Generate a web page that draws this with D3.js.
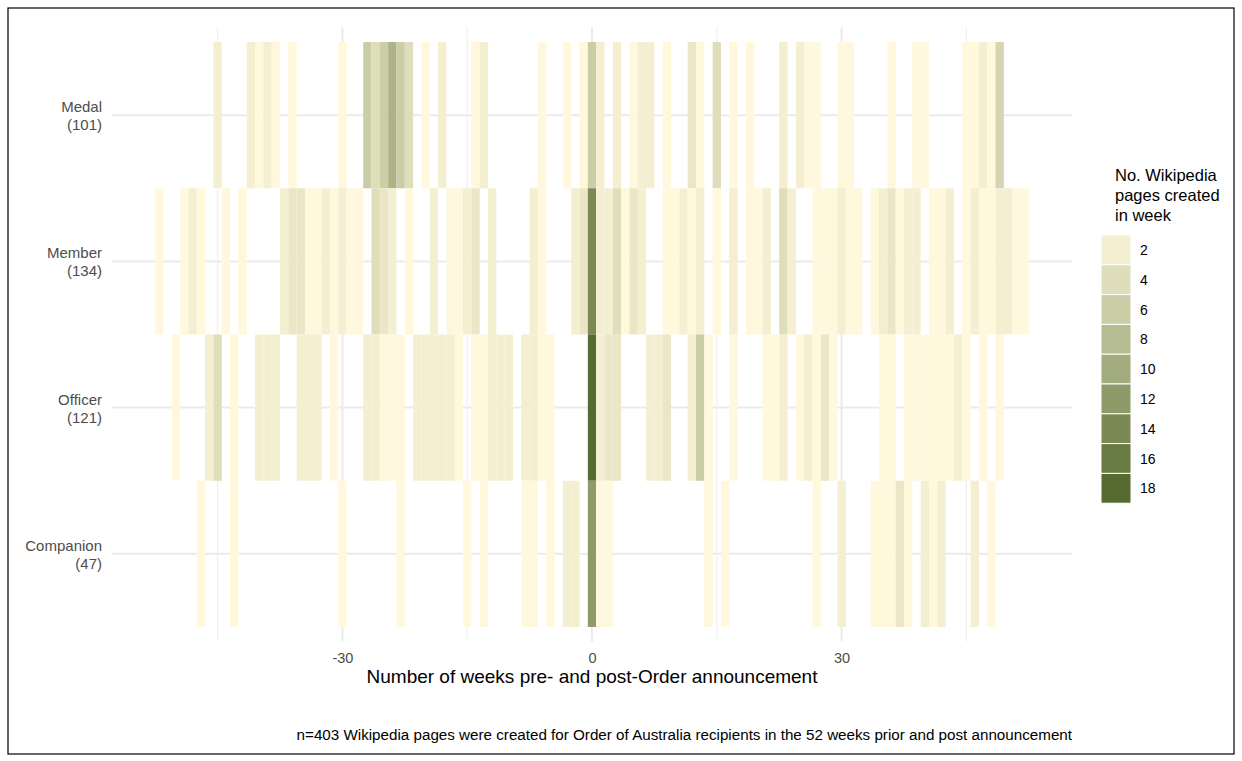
<!DOCTYPE html>
<html>
<head>
<meta charset="utf-8">
<script src="https://cdn.jsdelivr.net/npm/d3@7"></script>
<style>
  body { margin: 0; background: #fff; }
  svg { font-family: "Liberation Sans", Arial, sans-serif; }
</style>
</head>
<body>
<div id="chart_area"></div>
<script>
var W = 1242, H = 761;

var categories = ["Medal", "Member", "Officer", "Companion"];
var categoryTotals = [101, 134, 121, 47];

// [week, pages created] for each award level
var medal = [[-45,2],[-41,2],[-40,1],[-39,2],[-38,1],[-36,1],[-30,1],
  [-27,6],[-26,4],[-25,6],[-24,9],[-23,6],[-22,4],[-20,1],[-18,2],[-14,1],[-13,2],
  [-6,1],[-3,1],[-1,1],[0,6],[1,2],[3,2],[5,1],[6,2],[7,2],[9,1],[12,3],[13,1],
  [15,4],[17,1],[19,1],[23,2],[25,2],[26,1],[27,1],[30,1],[31,1],[36,1],[39,1],[40,1],
  [45,1],[46,1],[47,2],[48,1],[49,5]];
var member = [[-52,1],[-49,1],[-48,2],[-47,1],[-44,1],[-42,1],[-37,2],[-36,3],[-35,3],
  [-34,1],[-33,1],[-32,2],[-31,1],[-30,2],[-29,1],[-28,1],[-26,4],[-25,3],[-24,2],
  [-22,1],[-19,2],[-17,1],[-16,1],[-15,2],[-14,3],[-12,2],[-7,2],[-6,1],[-2,2],[-1,3],
  [0,14],[1,2],[2,2],[3,4],[4,1],[5,3],[6,2],[9,1],[10,1],[11,2],[12,1],[13,2],[15,1],
  [17,2],[19,1],[20,1],[21,2],[23,4],[24,2],[27,1],[28,1],[29,1],[30,2],[31,1],[32,1],
  [34,1],[35,2],[36,3],[37,1],[38,2],[39,2],[41,1],[42,1],[43,2],
  [45,1],[46,2],[47,1],[48,1],[49,2],[50,2],[51,1],[52,1]];
var officer = [[-50,1],[-46,2],[-45,4],[-43,1],[-40,2],[-39,2],[-38,2],[-35,2],[-34,2],
  [-33,2],[-31,1],[-27,2],[-26,2],[-25,1],[-24,1],[-23,1],[-21,2],[-20,2],[-19,2],
  [-18,2],[-17,2],[-16,1],[-14,1],[-13,1],[-12,2],[-11,2],[-10,2],[-8,2],[-7,2],[-6,1],
  [-5,1],[0,18],[1,2],[2,3],[3,3],[7,2],[8,2],[9,3],[12,2],[13,6],[14,1],[17,1],
  [21,1],[22,1],[23,2],[25,1],[26,2],[27,1],[28,3],[29,1],[35,1],[36,1],
  [38,1],[39,1],[40,1],[41,1],[42,1],[43,1],[44,2],[45,1],[47,1],[49,1]];
var companion = [[-47,1],[-43,1],[-30,1],[-23,1],[-15,1],[-13,1],[-8,1],[-7,1],[-5,1],
  [-3,2],[-2,2],[0,12],[1,1],[2,1],[14,1],[16,1],[27,1],[30,2],[34,1],[35,1],[36,1],
  [37,3],[38,1],[40,2],[41,1],[42,2],[46,2],[48,1]];

var xTicks = [-30, 0, 30];
var xMinor = [-45, -15, 15, 45];
var legendBreaks = [2, 4, 6, 8, 10, 12, 14, 16, 18];

var seriesByCat = [medal, member, officer, companion];
var tiles = [];
seriesByCat.forEach(function (s, i) {
  s.forEach(function (d) { tiles.push({ cat: categories[i], week: d[0], n: d[1] }); });
});

var svg = d3.select("#chart_area").append("svg")
  .attr("width", W).attr("height", H);

// frame
svg.append("rect").attr("x", 8).attr("y", 8).attr("width", W - 16).attr("height", H - 15)
  .attr("fill", "#fff").attr("stroke", "#000").attr("stroke-width", 1.2);

var x = d3.scaleLinear().domain([-57.75, 57.75]).range([111.5, 1072.5]);
var y = d3.scaleBand().domain(categories).range([27.4, 641.6])
  .paddingInner(0).paddingOuter(0.1);
var fill = d3.scaleLinear().domain([1, 18]).range(["#fff8dc", "#556b2f"])
  .interpolate(d3.interpolateLab);

// grid
var grid = svg.append("g");
grid.selectAll(".minor").data(xMinor).enter().append("line")
  .attr("x1", function (d) { return x(d); }).attr("x2", function (d) { return x(d); })
  .attr("y1", 27.4).attr("y2", 641.6).attr("stroke", "#f0f0f0").attr("stroke-width", 1.2);
grid.selectAll(".major").data(xTicks).enter().append("line")
  .attr("x1", function (d) { return x(d); }).attr("x2", function (d) { return x(d); })
  .attr("y1", 27.4).attr("y2", 641.6).attr("stroke", "#ebebeb").attr("stroke-width", 2);
grid.selectAll(".hmajor").data(categories).enter().append("line")
  .attr("x1", 111.5).attr("x2", 1072.5)
  .attr("y1", function (d) { return y(d) + y.bandwidth() / 2; })
  .attr("y2", function (d) { return y(d) + y.bandwidth() / 2; })
  .attr("stroke", "#ebebeb").attr("stroke-width", 2);

// tiles
svg.selectAll(".tile").data(tiles).enter().append("rect")
  .attr("x", function (d) { return x(d.week - 0.5); })
  .attr("y", function (d) { return y(d.cat); })
  .attr("width", function (d) { return x(d.week + 0.5) - x(d.week - 0.5); })
  .attr("height", y.bandwidth())
  .attr("fill", function (d) { return fill(d.n); });

// x axis
var xAxis = svg.append("g").attr("transform", "translate(0,645)")
  .call(d3.axisBottom(x).tickValues(xTicks).tickSize(0).tickPadding(8)
    .tickFormat(function (d) { return String(d); }));
xAxis.select(".domain").remove();
xAxis.selectAll("text").attr("fill", "#4d4d4d").style("font-size", "14.5px");

svg.append("text").attr("x", x(0)).attr("y", 683).attr("text-anchor", "middle")
  .style("font-size", "19px").attr("fill", "#000")
  .text("Number of weeks pre- and post-Order announcement");

// y labels
var yl = svg.append("g");
categories.forEach(function (c, i) {
  var cy = y(c) + y.bandwidth() / 2;
  var t = yl.append("text").attr("text-anchor", "end").attr("fill", "#4d4d4d")
    .style("font-size", "15px");
  t.append("tspan").attr("x", 102).attr("y", cy - 3).text(c);
  t.append("tspan").attr("x", 102).attr("y", cy + 15).text("(" + categoryTotals[i] + ")");
});

// legend
var lg = svg.append("g");
["No. Wikipedia", "pages created", "in week"].forEach(function (s, i) {
  lg.append("text").attr("x", 1115).attr("y", 181 + i * 20).style("font-size", "16.5px")
    .attr("fill", "#000").text(s);
});
var keyH = 29.8;
lg.selectAll(".key").data(legendBreaks).enter().append("rect")
  .attr("x", 1101).attr("y", function (d, i) { return 235 + i * keyH; })
  .attr("width", 30).attr("height", keyH)
  .attr("fill", function (d) { return fill(d); })
  .attr("stroke", "#fff").attr("stroke-width", 1);
lg.selectAll(".klab").data(legendBreaks).enter().append("text")
  .attr("x", 1140).attr("y", function (d, i) { return 235 + i * keyH + keyH / 2 + 5; })
  .style("font-size", "14px").attr("fill", "#000")
  .text(function (d) { return d; });

// caption
svg.append("text").attr("x", 1072).attr("y", 740).attr("text-anchor", "end")
  .style("font-size", "15.2px").attr("fill", "#000")
  .text("n=403 Wikipedia pages were created for Order of Australia recipients in the 52 weeks prior and post announcement");
</script>
</body>
</html>
